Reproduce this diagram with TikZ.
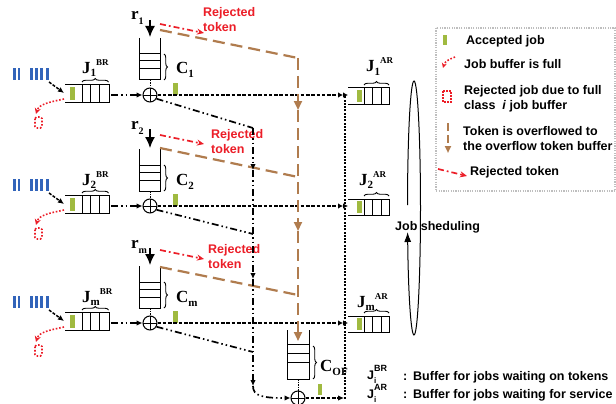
\documentclass[tikz,border=0pt]{standalone}
\usepackage{fontspec}
\setmainfont{Liberation Sans}
\newfontfamily\tmsfont{Liberation Serif}
\usetikzlibrary{arrows.meta,decorations.pathreplacing}
\definecolor{tokred}{RGB}{236,30,40}
\definecolor{brn}{RGB}{176,124,78}
\definecolor{accg}{RGB}{160,186,64}
\definecolor{jobblue}{RGB}{50,100,186}
\definecolor{lgray}{RGB}{190,190,190}
\newcommand\sfb[1]{\fontsize{#1}{#1}\selectfont\bfseries}
\newcommand\tmb[1]{\tmsfont\fontsize{#1}{#1}\selectfont\bfseries}
\tikzset{
  bufline/.style={line width=1pt},
  rowdash/.style={line width=1.7pt, dash pattern=on 3.6pt off 1.7pt},
  dashdot/.style={line width=1.7pt, dash pattern=on 7pt off 3pt on 1.5pt off 3pt on 1.5pt off 3pt},
  vdot/.style={line width=1.8pt, dash pattern=on 2pt off 1.3pt},
  brdash/.style={brn, line width=2.2pt, dash pattern=on 12pt off 6pt},
  redtok/.style={tokred, line width=1.7pt, dash pattern=on 6pt off 3pt on 1.8pt off 3pt, -{Stealth[length=7pt,width=6pt]}},
  reddot/.style={tokred, line width=1.6pt, dash pattern=on 1.6pt off 1.8pt},
  blkarr/.style={-{Latex[length=6pt,width=5.5pt]}},
  dblarr/.style={-{Latex[length=5pt,width=5.5pt]Latex[length=5pt,width=5.5pt]}},
  brarr/.style={-{Triangle[length=9pt,width=8pt]}},
  bigarr/.style={line width=1.3pt, -{Latex[length=11pt,width=10pt]}},
  sumnode/.style={circle, draw, line width=1pt, minimum size=14pt, inner sep=0pt,
     path picture={\draw[line width=0.8pt] (path picture bounding box.north) -- (path picture bounding box.south)
       (path picture bounding box.west) -- (path picture bounding box.east);}},
  lbl/.style={font=\sfb{12.5}, inner sep=0pt, anchor=base west},
  redlbl/.style={lbl, text=tokred},
  serlbl/.style={inner sep=0pt, anchor=base west},
  brc/.style={decorate, decoration={brace, amplitude=3.5pt}, line width=0.9pt},
}
\begin{document}
\begin{tikzpicture}[x=1pt,y=-1pt]
\useasboundingbox (0,0) rectangle (616,404);
\fill[white] (0,0) rectangle (616,404);

\foreach \cy/\id/\sub/\rtop/\redy/\brya/\bryb/\tx/\tb/\dy/\arx/\arb in {
  95/a/1/20/24/30/58/203/17/128/366/72,
  206/b/2/129/135/148/177/211/138/234/359/185,
  323/c/m/248/250/267/295/208/253/352/357/307}{
  % arriving jobs
  \foreach \bx in {13,17.5,30,35,40,46}
    \fill[jobblue] (\bx,\cy-27) rectangle ++(2.8,12);
  \coordinate (jin\id) at (49,\cy-13);
  \coordinate (bin\id) at (64,\cy-2);
  \draw[line width=1.5pt, dash pattern=on 3pt off 1.5pt, blkarr] (jin\id) -- (bin\id);
  % BR buffer
  \draw[bufline] (65,\cy-10.5) -- (109,\cy-10.5) -- (109,\cy+7.5) -- (65,\cy+7.5);
  \foreach \vx in {82,90.5,99} \draw[bufline] (\vx,\cy-10.5) -- (\vx,\cy+7.5);
  \fill[accg] (70,\cy-8) rectangle (75,\cy+5);
  \draw[brc] (82,\cy-13) -- (108.5,\cy-13);
  \node[serlbl] (jbr\id) at (82,\cy-21) {\tmb{17}J\raisebox{-3pt}{\tmb{11}\sub}\raisebox{8pt}{\tmb{9}BR}};
  % job buffer full / rejected job
  \draw[reddot, -{Stealth[length=6pt,width=6pt]}] (64,\cy+4) .. controls (50,\cy+7) and (39,\cy+9) .. (36,\cy+19);
  \draw[reddot, rounded corners=1.5pt] (35,\cy+22) rectangle (42,\cy+33);
  % sum node
  \node[sumnode] (sum\id) at (150,\cy) {};
  \coordinate (bout\id) at (111,\cy);
  \draw[dashdot, blkarr] (bout\id) -- (sum\id);
  % token bucket
  \draw[bufline] (139.5,\cy-57) -- (139.5,\cy-15) -- (160.5,\cy-15) -- (160.5,\cy-57);
  \foreach \hy in {41,34,26} \draw[bufline] (139.5,\cy-\hy) -- (160.5,\cy-\hy);
  \coordinate (bk\id) at (150,\cy-15);
  \draw[line width=1pt, dash pattern=on 1.5pt off 1pt] (bk\id) -- (sum\id);
  \draw[brc] (164,\cy-41) -- (164,\cy-15);
  \node[serlbl] (cl\id) at (176,\cy-21) {\tmb{17}C\raisebox{-4pt}{\tmb{11}\sub}};
  % token arrival
  \coordinate (rt\id) at (150,\rtop);
  \coordinate (rb\id) at (150,\cy-58);
  \draw[bigarr] (rt\id) -- (rb\id);
  \node[serlbl] (rl\id) at (131,\rtop) {\tmb{17}r\raisebox{-5pt}{\tmb{10}\sub}};
  % rejected token
  \coordinate (rs\id) at (160,\redy);
  \coordinate (re\id) at (204,\redy+9);
  \draw[redtok] (rs\id) -- (re\id);
  \node[redlbl] (rj\id) at (\tx,\tb) {Rejected};
  \node[redlbl] (tk\id) at (\tx,\tb+15) {token};
  % overflowed token
  \coordinate (bs\id) at (160,\brya);
  \coordinate (be\id) at (298,\bryb);
  \draw[brdash] (bs\id) -- (be\id);
  % accepted job to AR buffer
  \fill[accg] (173,\cy-12) rectangle (178,\cy);
  \coordinate (ar\id) at (348,\cy);
  \draw[rowdash, dblarr] (sum\id) -- (ar\id);
  % AR buffer
  \draw[bufline] (348,\cy-7) -- (389,\cy-7) -- (389,\cy+9) -- (348,\cy+9);
  \foreach \vx in {364,372.5,381} \draw[bufline] (\vx,\cy-7) -- (\vx,\cy+9);
  \fill[accg] (357,\cy-5) rectangle (362,\cy+7);
  \draw[brc] (364,\cy-10) -- (389,\cy-10);
  \node[serlbl] (jar\id) at (\arx,\arb) {\tmb{17}J\raisebox{-3pt}{\tmb{11}\sub}\raisebox{8pt}{\tmb{9}AR}};
  % towards overflow path
  \coordinate (dg\id) at (253,\dy);
  \draw[dashdot] (sum\id.-30) -- (dg\id);
}

% vertical dash-dot path to overflow
\coordinate (vb) at (253,170);
\coordinate (vc) at (253,279);
\coordinate (vd) at (253,386);
\draw[dashdot, blkarr] (dga) -- (vb);
\draw[dashdot, blkarr] (vb) -- (vc);
\draw[dashdot, blkarr] (vc) -- (vd);

% overflow token bucket
\node[sumnode] (sumof) at (298,398) {};
\draw[bufline] (287,330) -- (287,379) -- (309,379) -- (309,330);
\foreach \hy in {344,353,362} \draw[bufline] (287,\hy) -- (309,\hy);
\coordinate (bkof) at (298,379);
\draw[line width=1pt, dash pattern=on 1.5pt off 1pt] (bkof) -- (sumof);
\draw[brc] (313,346) -- (313,379);
\node[serlbl] (clof) at (320,371) {\tmb{17}C\raisebox{-4pt}{\tmb{11}OF}};
\draw[dashdot, blkarr] (vd) .. controls (253,396) and (262,398) .. (sumof.west);

% brown overflow line
\coordinate (bm1) at (298,110);
\coordinate (bm2) at (298,231);
\coordinate (bof) at (298,341);
\draw[brdash, brarr] (bea) -- (bm1);
\draw[brdash, brarr] (bm1) -- (bm2);
\draw[brdash, brarr] (bm2) -- (bof);

% overflow output
\fill[accg] (318,384) rectangle (322,395);
\coordinate (ofo) at (344,398);
\draw[rowdash, blkarr] (sumof) -- (ofo);
\coordinate (vbot) at (345,398.5);
\coordinate (vtop) at (345,96);
\draw[vdot] (vbot) -- (vtop);

% job scheduling loop
\draw[line width=1pt, -{Latex[length=10pt,width=7pt]}] (407.5,205) arc[start angle=178.65, end angle=-169.1, x radius=6.5pt, y radius=127pt];
\node[lbl] (jsch) at (395,230) {Job sheduling};

% legend
\draw[lgray, line width=1.2pt, dash pattern=on 1.2pt off 1.2pt] (436,28) rectangle (615,191);
\fill[accg] (443,35) rectangle (447,45);
\node[lbl] (lg1) at (466,45) {Accepted job};
\draw[reddot, -{Stealth[length=5pt,width=5pt]}] (455,57) .. controls (450,59) and (445,61) .. (443,68);
\node[lbl] (lg2) at (464,69) {Job buffer is full};
\draw[tokred, line width=1.3pt, dash pattern=on 2pt off 1pt] (443,91) rectangle (451,102);
\node[lbl] (lg3) at (464,95) {Rejected job due to full};
\node[lbl] (lg3b) at (464,110) {class \ \textit{i} job buffer};
\coordinate (lgbt) at (448,123);
\coordinate (lgbb) at (448,153);
\draw[brn, line width=2.2pt, dash pattern=on 8pt off 4pt, -{Triangle[length=7pt,width=6pt]}] (lgbt) -- (lgbb);
\node[lbl] (lg4) at (463,135) {Token is overflowed to};
\node[lbl] (lg4b) at (463,150) {the overflow token buffer};
\coordinate (lgrs) at (438,169);
\coordinate (lgre) at (467,176);
\draw[redtok] (lgrs) -- (lgre);
\node[lbl] (lg5) at (470,175) {Rejected token};

% notation
\node[lbl] (nj1) at (367,379) {J\rlap{\raisebox{8pt}{\sfb{9}BR}}\raisebox{-4pt}{\sfb{8}i}};
\node[lbl] (nc1) at (403,380) {:};
\node[lbl] (nt1) at (413,380) {Buffer for jobs waiting on tokens};
\node[lbl] (nj2) at (367,398.5) {J\rlap{\raisebox{8pt}{\sfb{9}AR}}\raisebox{-4pt}{\sfb{8}i}};
\node[lbl] (nc2) at (403,398) {:};
\node[lbl] (nt2) at (413,398) {Buffer for jobs waiting for service};
\end{tikzpicture}
\end{document}
